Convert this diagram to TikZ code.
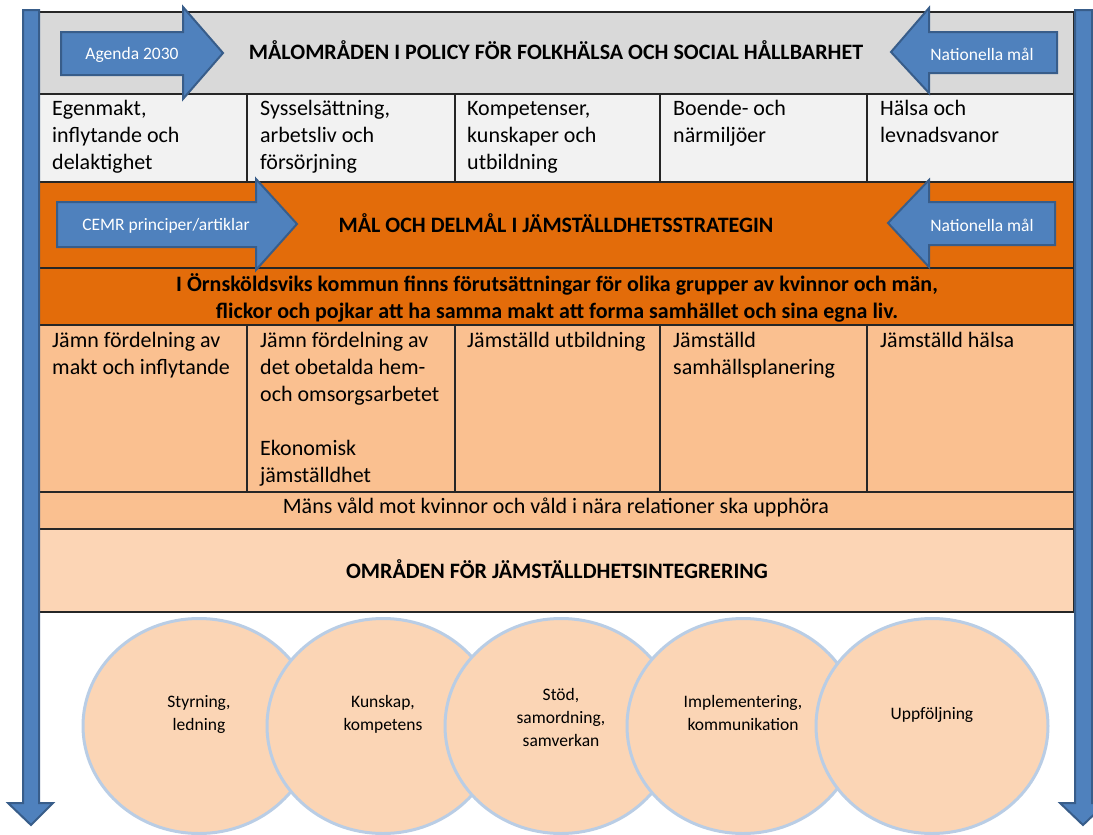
\documentclass[tikz,border=0pt]{standalone}
\usepackage{fontspec}
\setmainfont{Carlito}
\usetikzlibrary{shapes.geometric}
\definecolor{hdrgray}{HTML}{D9D9D9}
\definecolor{cellgray}{HTML}{F2F2F2}
\definecolor{orng}{HTML}{E36C0A}
\definecolor{lorng}{HTML}{FAC090}
\definecolor{llorng}{HTML}{FCD5B5}
\definecolor{tblline}{HTML}{262626}
\definecolor{arrblue}{HTML}{4F81BD}
\definecolor{arrdark}{HTML}{385D8A}
\definecolor{circfill}{HTML}{FBD5B5}
\definecolor{circline}{HTML}{B9CDE5}
\begin{document}
\begin{tikzpicture}[x=1pt,y=-1pt,
  rowbox/.style={draw=tblline, line width=1.3pt, anchor=north west, inner sep=0pt, outer sep=0pt},
  celltxt/.style={anchor=base west, align=left, inner sep=0pt, font=\fontsize{22}{27}\selectfont},
  hdrtxt/.style={anchor=base, align=center, inner sep=0pt, font=\fontsize{22}{27}\selectfont\bfseries},
  blockarrow/.style={fill=arrblue, draw=arrdark, line width=2pt, line join=miter},
  arrtxt/.style={text=white, font=\fontsize{17.5}{21}\selectfont, inner sep=0pt, anchor=base},
  circ/.style={ellipse, minimum width=232pt, minimum height=215pt, fill=circfill, draw=circline, line width=3pt, inner sep=0pt},
  circtxt/.style={align=center, font=\fontsize{17.5}{23}\selectfont, inner sep=0pt, anchor=base}
]
\useasboundingbox (0,0) rectangle (1093,835);
\clip (0,0) rectangle (1093,835);
\fill[white] (0,0) rectangle (1093,835);

% table rows
\node[rowbox, fill=hdrgray, minimum width=1035pt, minimum height=82pt] (r1) at (39,12) {};
\node[rowbox, fill=cellgray, minimum width=208pt, minimum height=88pt] (c21) at (39,94) {};
\node[rowbox, fill=cellgray, minimum width=208pt, minimum height=88pt] (c22) at (247,94) {};
\node[rowbox, fill=cellgray, minimum width=205pt, minimum height=88pt] (c23) at (455,94) {};
\node[rowbox, fill=cellgray, minimum width=207pt, minimum height=88pt] (c24) at (660,94) {};
\node[rowbox, fill=cellgray, minimum width=207pt, minimum height=88pt] (c25) at (867,94) {};
\node[rowbox, fill=orng, minimum width=1035pt, minimum height=86pt] (r3) at (39,182) {};
\node[rowbox, fill=orng, minimum width=1035pt, minimum height=57pt] (r4) at (39,268) {};
\node[rowbox, fill=lorng, minimum width=208pt, minimum height=167pt] (c51) at (39,325) {};
\node[rowbox, fill=lorng, minimum width=208pt, minimum height=167pt] (c52) at (247,325) {};
\node[rowbox, fill=lorng, minimum width=205pt, minimum height=167pt] (c53) at (455,325) {};
\node[rowbox, fill=lorng, minimum width=207pt, minimum height=167pt] (c54) at (660,325) {};
\node[rowbox, fill=lorng, minimum width=207pt, minimum height=167pt] (c55) at (867,325) {};
\node[rowbox, fill=lorng, minimum width=1035pt, minimum height=37pt] (r6) at (39,492) {};
\node[rowbox, fill=llorng, minimum width=1035pt, minimum height=83pt] (r7) at (39,529) {};

% texts (base anchor = last line baseline)
\node[hdrtxt] (t1) at (556,59) {MÅLOMRÅDEN I POLICY FÖR FOLKHÄLSA OCH SOCIAL HÅLLBARHET};
\node[celltxt] (t21) at (52,169) {Egenmakt,\\inflytande och\\delaktighet};
\node[celltxt] (t22) at (260,169) {Sysselsättning,\\arbetsliv och\\försörjning};
\node[celltxt] (t23) at (467,169) {Kompetenser,\\kunskaper och\\utbildning};
\node[celltxt] (t24) at (673,142) {Boende- och\\närmiljöer};
\node[celltxt] (t25) at (880,142) {Hälsa och\\levnadsvanor};
\node[hdrtxt] (t3) at (556,232) {MÅL OCH DELMÅL I JÄMSTÄLLDHETSSTRATEGIN};
\node[hdrtxt] (t4) at (557,318) {I Örnsköldsviks kommun finns förutsättningar för olika grupper av kvinnor och män,\\flickor och pojkar att ha samma makt att forma samhället och sina egna liv.};
\node[celltxt] (t51) at (52,374) {Jämn fördelning av\\makt och inflytande};
\node[celltxt] (t52) at (260,482) {Jämn fördelning av\\det obetalda hem-\\och omsorgsarbetet\\[27pt]Ekonomisk\\jämställdhet};
\node[celltxt] (t53) at (467,347) {Jämställd utbildning};
\node[celltxt] (t54) at (673,374) {Jämställd\\samhällsplanering};
\node[celltxt] (t55) at (880,347) {Jämställd hälsa};
\node[celltxt, anchor=base] (t6) at (556,513) {Mäns våld mot kvinnor och våld i nära relationer ska upphöra};
\node[hdrtxt] (t7) at (557,578) {OMRÅDEN FÖR JÄMSTÄLLDHETSINTEGRERING};

% block arrows
\draw[blockarrow] (61,32) -- (183,32) -- (183,7) -- (223,53) -- (183,99) -- (183,75) -- (61,75) -- cycle;
\node[arrtxt] (a1) at (132,59) {Agenda 2030};
\draw[blockarrow] (1057,32) -- (929,32) -- (929,8) -- (891,52) -- (929,93) -- (929,73) -- (1057,73) -- cycle;
\node[arrtxt] (a2) at (982,60) {Nationella mål};
\draw[blockarrow] (57,202) -- (256,202) -- (256,179) -- (297,224) -- (256,270) -- (256,247) -- (57,247) -- cycle;
\node[arrtxt] (a3) at (166,230) {CEMR principer/artiklar};
\draw[blockarrow] (1055,202) -- (929,202) -- (929,180) -- (888,223) -- (929,267) -- (929,245) -- (1055,245) -- cycle;
\node[arrtxt] (a4) at (982,231) {Nationella mål};

% circles
\node[circ] (k1) at (199,726) {};
\node[circ] (k2) at (383,726) {};
\node[circ] (k3) at (561,726) {};
\node[circ] (k4) at (743,726) {};
\node[circ] (k5) at (932,726) {};
\node[circtxt] (kt1) at (199,730) {Styrning,\\ledning};
\node[circtxt] (kt2) at (383,730) {Kunskap,\\kompetens};
\node[circtxt] (kt3) at (561,746) {Stöd,\\samordning,\\samverkan};
\node[circtxt] (kt4) at (743,730) {Implementering,\\kommunikation};
\node[circtxt] (kt5) at (932,719) {Uppföljning};

% vertical arrows
\draw[blockarrow] (23,10) -- (39,10) -- (39,803) -- (53,803) -- (31,825) -- (8,803) -- (23,803) -- cycle;
\draw[blockarrow] (1075,10) -- (1092,10) -- (1092,803) -- (1106,803) -- (1083,825) -- (1060,803) -- (1075,803) -- cycle;
\end{tikzpicture}
\end{document}
